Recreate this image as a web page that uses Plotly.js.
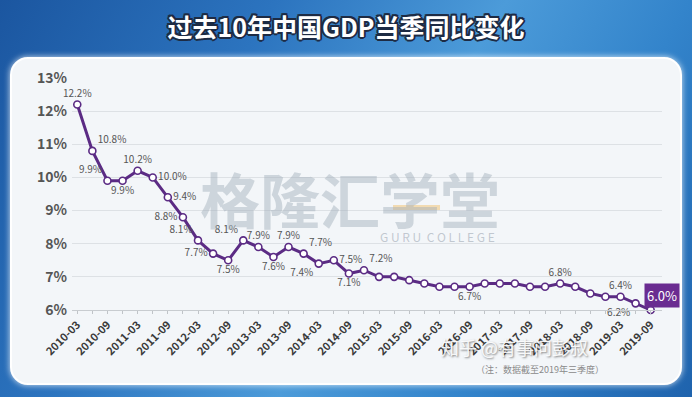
<!DOCTYPE html>
<html>
<head>
<meta charset="utf-8">
<script src="https://cdn.plot.ly/plotly-3.0.1.min.js"></script>
<style>
  html, body { margin:0; padding:0; width:692px; height:397px; overflow:hidden; }
  body {
    background: linear-gradient(120deg, #1b56a0 0%, #2c74bf 30%, #4c9bd9 55%, #3384cb 75%, #1f63ad 100%);
    position: relative;
  }
  #panel {
    position:absolute; left:10px; top:57px; width:672px; height:328px;
    background:#f3f6f9; border-radius:18px; border:2px solid #ffffff;
    box-sizing:border-box; box-shadow: 0 0 6px rgba(255,255,255,0.8);
  }
  #chart { position:absolute; left:0; top:0; width:692px; height:397px; }
</style>
</head>
<body>
<div id="panel"></div>
<div id="chart"></div>
<script>
const categories = ['2010-03','2010-06','2010-09','2010-12','2011-03','2011-06','2011-09','2011-12',
  '2012-03','2012-06','2012-09','2012-12','2013-03','2013-06','2013-09','2013-12',
  '2014-03','2014-06','2014-09','2014-12','2015-03','2015-06','2015-09','2015-12',
  '2016-03','2016-06','2016-09','2016-12','2017-03','2017-06','2017-09','2017-12',
  '2018-03','2018-06','2018-09','2018-12','2019-03','2019-06','2019-09'];
const gdpGrowth = [12.2,10.8,9.9,9.9,10.2,10.0,9.4,8.8,
  8.1,7.7,7.5,8.1,7.9,7.6,7.9,7.7,
  7.4,7.5,7.1,7.2,7.0,7.0,6.9,6.8,
  6.7,6.7,6.7,6.8,6.8,6.8,6.7,6.7,
  6.8,6.7,6.5,6.4,6.4,6.2,6.0];
const labeledQuarters = ['2010-03','2010-06','2010-09','2010-12','2011-03','2011-06','2011-09','2011-12',
  '2012-03','2012-06','2012-09','2012-12','2013-03','2013-06','2013-09','2013-12',
  '2014-03','2014-06','2014-09','2014-12','2016-09','2018-03','2019-03','2019-06'];
const titleText = '过去10年中国GDP当季同比变化';

// label placement (style)
const posMap = {
  '2010-03':'top center','2010-06':'top right','2010-09':'top left','2010-12':'bottom center',
  '2011-03':'top center','2011-06':'middle right','2011-09':'middle right','2011-12':'middle left',
  '2012-03':'top left','2012-06':'middle left','2012-09':'bottom center','2012-12':'top left',
  '2013-03':'top center','2013-06':'bottom center','2013-09':'top center','2013-12':'top right',
  '2014-03':'bottom left','2014-06':'middle right','2014-09':'bottom center','2014-12':'top right',
  '2016-09':'bottom center','2018-03':'top center','2019-03':'top center','2019-06':'bottom left'
};

const texts = categories.map((c, i) => labeledQuarters.includes(c) ? gdpGrowth[i].toFixed(1) + '%' : '');
const positions = categories.map(c => posMap[c] || 'top center');

const purple = '#5b2b84';
const font = "'Noto Sans CJK SC', 'Noto Sans', sans-serif";

const trace = {
  type:'scatter', mode:'lines+markers+text',
  x: categories, y: gdpGrowth,
  text: texts, textposition: positions,
  textfont: {family: font, size: 10, color:'#555'},
  line: {color: purple, width: 3},
  marker: {size: 7, color:'#ffffff', line:{color: purple, width: 1.6}},
  cliponaxis: false, hoverinfo:'x+y'
};

const last = categories.length - 1;

const layout = {
  width: 692, height: 397,
  paper_bgcolor:'rgba(0,0,0,0)', plot_bgcolor:'rgba(0,0,0,0)',
  margin: {l:72, r:30, t:78, b:87},
  showlegend:false,
  title: {text: titleText, x:0.5, xanchor:'center', y: 0.93, yanchor:'middle',
    font:{family: font, size: 25, color:'#ffffff', weight: 700,
      shadow:'1.5px 1.5px 0 #1d2b44, -1.5px -1.5px 0 #1d2b44, 1.5px -1.5px 0 #1d2b44, -1.5px 1.5px 0 #1d2b44, 0 2px 0 #1d2b44, 2px 0 0 #1d2b44, -2px 0 0 #1d2b44, 0 -2px 0 #1d2b44'}},
  xaxis: {
    type:'category', range:[-0.35, 38.75],
    tickvals: categories, ticktext: categories.map((c,i)=> i%2===0 ? c : ''),
    tickangle: -45, tickfont:{family: font, size: 11, color:'#3a3a3a', weight:700},
    showgrid:false, showline:true, linecolor:'#c8ccd0', linewidth:1,
    ticks:'outside', ticklen:3, tickcolor:'#c0c4c8', zeroline:false
  },
  yaxis: {
    range:[6, 13], dtick:1, tick0:6, ticksuffix:'%',
    tickfont:{family: font, size: 14, color:'#555', weight:700},
    gridcolor:'#dde1e5', gridwidth:1, zeroline:false, showline:false, ticks:'',
    ticklabelstandoff: 4
  },
  shapes: [
    {type:'rect', xref:'paper', yref:'paper', x0:(393-72)/590, x1:(440-72)/590, y0:(310-210)/232, y1:(310-205)/232,
     fillcolor:'rgba(240,196,120,0.55)', line:{width:0}, layer:'below'}
  ],
  annotations: [
    {xref:'paper', yref:'paper', x:(350-72)/590, y:(310-197)/232, text:'格隆汇学堂', showarrow:false,
     font:{family: font, size: 60, color:'rgba(160,172,184,0.45)', weight:700}},
    {xref:'paper', yref:'paper', x:(437-72)/590, y:(310-247)/232, text:'G U R U  C O L L E G E', showarrow:false,
     font:{family: font, size: 12, color:'rgba(150,160,172,0.55)'}},
    {xref:'x', yref:'y', x: categories[last], y: gdpGrowth[last], text: gdpGrowth[last].toFixed(1) + '%',
     showarrow:false, xshift: 11, yshift: 15, bgcolor: '#6a2c91', borderpad: 2,
     font:{family: font, size: 13, color:'#ffffff'}},
    {xref:'paper', yref:'paper', x:(590-72)/590, y:(310-362)/232, text:'知乎 @有事问彭叔', showarrow:false,
     font:{family: font, size: 18, color:'rgba(255,255,255,0.9)', shadow:'1px 1px 2px rgba(60,60,60,0.7)'}},
    {xref:'paper', yref:'paper', x:(606-72)/590, y:(310-378)/232, text:'（注：数据截至2019年三季度）', showarrow:false,
     font:{family: font, size: 9, color:'#8a8a8a'}}
  ]
};

Plotly.newPlot('chart', [trace], layout, {displayModeBar:false, responsive:false});
</script>
</body>
</html>
